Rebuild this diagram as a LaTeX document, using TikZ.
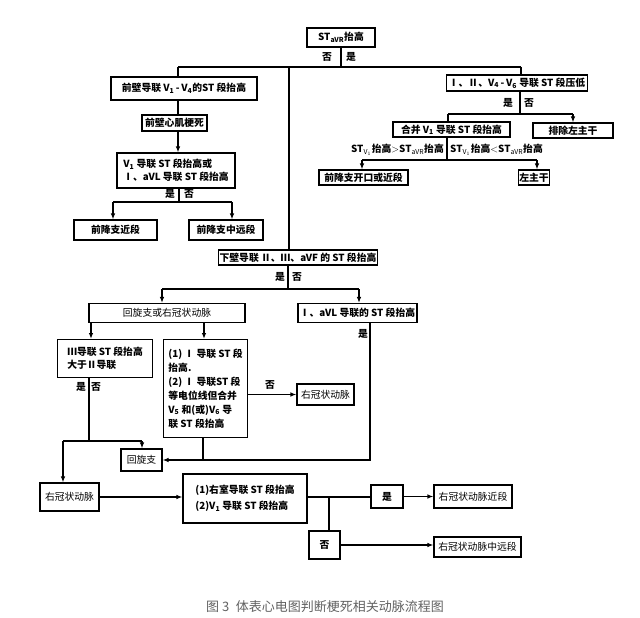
\documentclass[tikz,border=0pt]{standalone}
\usepackage{fontspec}
\setmainfont{Noto Sans CJK SC}
\usetikzlibrary{arrows.meta}
\newcommand\sbs[1]{\textsubscript{#1}}
\begin{document}
\begin{tikzpicture}[x=1pt,y=-1pt,
  box/.style={draw, line width=1.1pt, inner sep=1pt, align=center,
    font=\fontsize{9.8}{13}\selectfont\bfseries},
  lbox/.style={box, font=\fontsize{9.8}{13}\selectfont},
  ln/.style={line width=1.1pt},
  arr/.style={line width=1.1pt, -{Latex[length=6pt,width=4.5pt]}},
  lbl/.style={inner sep=0pt, font=\fontsize{9.8}{11}\selectfont\bfseries}]
\useasboundingbox (0,0) rectangle (640,618);
% nodes
\node[box, minimum width=68, minimum height=19] (t) at (341,37.5) {ST\sbs{aVR}抬高};
\node[box, minimum width=146, minimum height=23] (a1) at (184,88.5) {前壁导联 V\sbs{1}\,-\,V\sbs{4}的ST 段抬高};
\node[box, minimum width=65, minimum height=16] (a2) at (174.5,123) {前壁心肌梗死};
\node[box, minimum width=118, minimum height=35, align=left] (a3) at (176,170.5) {V\sbs{1} 导联 ST 段抬高或\\Ⅰ、aVL 导联 ST 段抬高};
\node[box, minimum width=83, minimum height=20] (a4) at (115.5,230) {前降支近段};
\node[box, minimum width=74, minimum height=20] (a5) at (226,230) {前降支中远段};
\node[box, minimum width=141, minimum height=16] (b1) at (517,83) {Ⅰ、Ⅱ、V\sbs{4}\,-\,V\sbs{6} 导联 ST 段压低};
\node[box, minimum width=117, minimum height=15] (b2) at (451.5,129.5) {合并 V\sbs{1} 导联 ST 段抬高};
\node[box, minimum width=80, minimum height=15] (b3) at (573,130.5) {排除左主干};
\node[box, minimum width=89, minimum height=15] (b4) at (363.5,177.5) {前降支开口或近段};
\node[box, minimum width=28, minimum height=15] (b5) at (534,177.5) {左主干};
\node[box, minimum width=150, minimum height=15] (c1) at (298,257.5) {下壁导联 Ⅱ、Ⅲ、aVF 的 ST 段抬高};
\node[lbox, minimum width=156, minimum height=19] (c2) at (167,313) {回旋支或右冠状动脉};
\node[box, minimum width=119, minimum height=19] (c3) at (357.5,313) {Ⅰ、aVL 导联的 ST 段抬高};
\node[box, minimum width=95, minimum height=38, align=left, anchor=north west, inner sep=4pt] (c4) at (57,339) {Ⅲ导联 ST 段抬高\\大于Ⅱ导联};
\node[box, minimum width=84, minimum height=98, align=left, anchor=north west, inner sep=4pt, font=\fontsize{9.8}{14}\selectfont\bfseries] (c5) at (163,339) {(1) Ⅰ 导联 ST 段\\抬高.\\(2) Ⅰ 导联ST 段\\等电位线但合并\\V\sbs{5} 和(或)V\sbs{6} 导\\联 ST 段抬高};
\node[lbox, minimum width=57, minimum height=21] (c6) at (325.5,394.5) {右冠状动脉};
\node[lbox, minimum width=41, minimum height=22] (c7) at (141.5,460) {回旋支};
\node[lbox, minimum width=59, minimum height=28] (d1) at (69.5,497) {右冠状动脉};
\node[box, minimum width=124, minimum height=49, align=left, font=\fontsize{9.8}{16}\selectfont\bfseries] (d2) at (245,498.5) {(1)右室导联 ST 段抬高\\(2)V\sbs{1} 导联 ST 段抬高};
\node[box, minimum width=32, minimum height=23] (d3) at (387,496.5) {是};
\node[box, minimum width=31, minimum height=28] (d4) at (324.5,545) {否};
\node[lbox, minimum width=78, minimum height=23] (d5) at (473,496.5) {右冠状动脉近段};
\node[lbox, minimum width=87, minimum height=20] (d6) at (477.5,547) {右冠状动脉中远段};
\node[inner sep=0pt, text=black!62, font=\fontsize{13}{15}\selectfont] (cap) at (325,607) {图 3\enspace 体表心电图判断梗死相关动脉流程图};
% labels
\node[lbl] (l1) at (327,57) {否};
\node[lbl] (l2) at (351,57) {是};
\node[lbl] (l3) at (170,194) {是};
\node[lbl] (l4) at (189,194) {否};
\node[lbl] (l5) at (508,103) {是};
\node[lbl] (l6) at (529,103) {否};
\node[lbl, anchor=east] (l7) at (444,150) {ST$_{\mathrm{V}_1}$抬高$>$ST$_{\mathrm{aVR}}$抬高};
\node[lbl, anchor=west] (l8) at (450,150) {ST$_{\mathrm{V}_1}$抬高$<$ST$_{\mathrm{aVR}}$抬高};
\node[lbl] (l9) at (280,277) {是};
\node[lbl] (l10) at (297,277) {否};
\node[lbl] (l11) at (81,387) {是};
\node[lbl] (l12) at (96,387) {否};
\node[lbl] (l13) at (363,334) {是};
\node[lbl] (l14) at (270,385) {否};
% junctions
\coordinate (j0) at (341,67);
\coordinate (jL) at (178,67);
\coordinate (jM) at (289,67);
\coordinate (jR) at (521,67);
\coordinate (ja) at (179,202);
\coordinate (ja1) at (113,202);
\coordinate (ja2) at (232,202);
\coordinate (jb) at (520,114);
\coordinate (jb1) at (448,114);
\coordinate (jb2) at (573,114);
\coordinate (jc) at (447,160);
\coordinate (jc1) at (362,160);
\coordinate (jc2) at (537,160);
\coordinate (jd) at (288,289);
\coordinate (jd1) at (162,289);
\coordinate (jd2) at (359,289);
\coordinate (ke) at (91,330);
\coordinate (kf) at (204,330);
\coordinate (jg) at (89,441);
\coordinate (jg1) at (63,441);
\coordinate (jg2) at (142,441);
\coordinate (jh) at (370,460);
\coordinate (jh2) at (203,460);
\coordinate (jk) at (329,497);
% connectors
\draw[ln] (t.south) -- (j0);
\draw[ln] (jL) -- (jR);
\draw[ln] (jL) -- (a1.north -| jL);
\draw[ln] (jR) -- (b1.north -| jR);
\draw[ln] (jM) -- (c1.north -| jM);
\draw[ln] (a1.south -| jL) -- (a2.north -| jL);
\draw[arr] (a2.south -| jL) -- (a3.north -| jL);
\draw[ln] (a3.south -| ja) -- (ja);
\draw[ln] (ja1) -- (ja2);
\draw[arr] (ja1) -- (a4.north -| ja1);
\draw[arr] (ja2) -- (a5.north -| ja2);
\draw[ln] (b1.south -| jb) -- (jb);
\draw[ln] (jb1) -- (jb2);
\draw[ln] (jb1) -- (b2.north -| jb1);
\draw[arr] (jb2) -- (b3.north -| jb2);
\draw[ln] (b2.south -| jc) -- (jc);
\draw[ln] (jc1) -- (jc2);
\draw[arr] (jc1) -- (b4.north -| jc1);
\draw[arr] (jc2) -- (b5.north -| jc2);
\draw[ln] (c1.south -| jd) -- (jd);
\draw[ln] (jd1) -- (jd2);
\draw[arr] (jd1) -- (c2.north -| jd1);
\draw[arr] (jd2) -- (c3.north -| jd2);
\draw[arr] (c2.south -| ke) -- (c4.north -| ke);
\draw[arr] (c2.south -| kf) -- (c5.north -| kf);
\draw[ln] (c4.south -| jg) -- (jg);
\draw[ln] (jg1) -- (jg2);
\draw[arr] (jg1) -- (d1.north -| jg1);
\draw[arr] (jg2) -- (c7.north -| jg2);
\draw[arr] (c3.south -| jh) -- (jh) -- (c7.east);
\draw[ln] (c5.south -| jh2) -- (jh2);
\draw[arr] (c6.west -| c5.east) -- (c6.west);
\draw[arr] (d1.east) -- (d2.west |- d1.east);
\draw[ln] (d2.east |- jk) -- (d3.west |- jk);
\draw[ln] (jk) -- (d4.north -| jk);
\draw[arr] (d3.east) -- (d5.west);
\draw[arr] (d4.east) -- (d6.west |- d4.east);
\end{tikzpicture}
\end{document}
